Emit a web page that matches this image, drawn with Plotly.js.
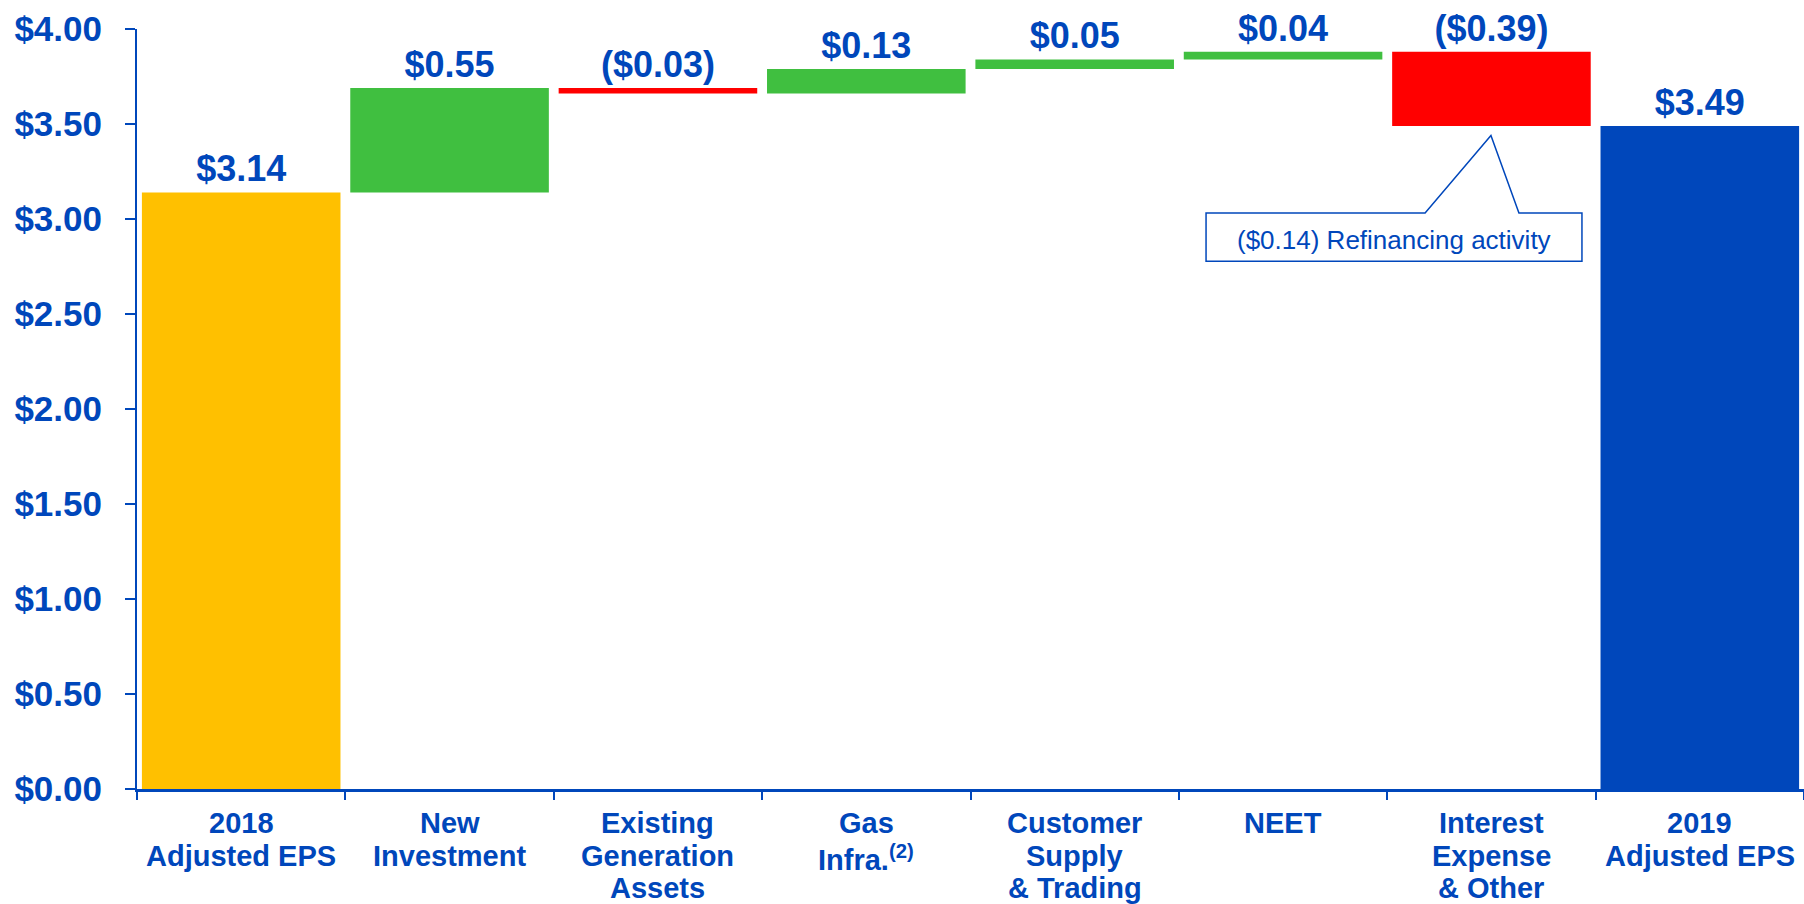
<!DOCTYPE html>
<html><head><meta charset="utf-8">
<script src="https://cdn.plot.ly/plotly-3.0.1.min.js"></script>
<style>html,body{margin:0;padding:0;background:#fff;overflow:hidden}</style>
</head><body><div id="chart" style="width:1804px;height:904px"></div>
<script>
// ---- data ----
const categories = ["2018 Adjusted EPS","New Investment","Existing Generation Assets","Gas Infra.(2)","Customer Supply & Trading","NEET","Interest Expense & Other","2019 Adjusted EPS"];
const labelLines = [["2018","Adjusted EPS"],["New","Investment"],["Existing","Generation","Assets"],["Gas","Infra.<sup>(2)</sup>"],["Customer","Supply","& Trading"],["NEET"],["Interest","Expense","& Other"],["2019","Adjusted EPS"]];
const measures = ["absolute","relative","relative","relative","relative","relative","relative","total"];
const values = [3.14, 0.55, -0.03, 0.13, 0.05, 0.04, -0.39, 3.49];
const barLabels = ["$3.14","$0.55","($0.03)","$0.13","$0.05","$0.04","($0.39)","$3.49"];
const yTickValues = [0, 0.5, 1, 1.5, 2, 2.5, 3, 3.5, 4];
const calloutText = "($0.14) Refinancing activity";

// ---- styles ----
const BLUE = "#0047BB", YELLOW = "#FFC000", GREEN = "#40BF40", RED = "#FF0000";
const FONT = "Liberation Sans, Arial, Helvetica, sans-serif";

// build waterfall bases/heights
let running = 0;
const bases = [], heights = [], colors = [];
values.forEach((v, i) => {
  const m = measures[i];
  if (m === "absolute") { bases.push(0); heights.push(v); running = v; colors.push(YELLOW); }
  else if (m === "total") { bases.push(0); heights.push(v); colors.push(BLUE); }
  else if (v >= 0) { bases.push(running); heights.push(v); running += v; colors.push(GREEN); }
  else { bases.push(running + v); heights.push(-v); running += v; colors.push(RED); }
});

const trace = {
  type: "bar", x: categories, y: heights, base: bases,
  marker: {color: colors, line: {width: 0}},
  text: barLabels, textposition: "outside", cliponaxis: false, constraintext: "none",
  textfont: {family: FONT, size: 36, color: BLUE, weight: "bold"},
  hoverinfo: "skip"
};

const annotations = [];
labelLines.forEach((lines, i) => {
  lines.forEach((ln, j) => {
    annotations.push({
      x: categories[i], xref: "x", y: 0, yref: "y", yanchor: "top", xanchor: "center",
      yshift: -(16 + j * 32.7), text: "<b>" + ln + "</b>", showarrow: false,
      font: {family: FONT, size: 29, color: BLUE}
    });
  });
});
annotations.push({
  x: 0.754, xref: "paper", y: 2.89, yref: "y", xanchor: "center", yanchor: "middle",
  text: calloutText, showarrow: false, font: {family: FONT, size: 26, color: BLUE}
});

const layout = {
  width: 1804, height: 904,
  margin: {l: 137, r: 0, t: 29, b: 115, pad: 0},
  paper_bgcolor: "#fff", plot_bgcolor: "#fff",
  showlegend: false, bargap: 0.047,
  xaxis: {type: "category", range: [-0.5, 7.5], showline: true, linecolor: BLUE, linewidth: 3,
    ticks: "outside", tickson: "boundaries", ticklen: 8, tickwidth: 2, tickcolor: BLUE,
    showticklabels: false, showgrid: false, zeroline: false, fixedrange: true},
  yaxis: {range: [0, 4], tickvals: yTickValues, ticktext: yTickValues.map(v => "$" + v.toFixed(2)),
    showline: true, linecolor: BLUE, linewidth: 2, ticks: "outside", ticklen: 10, tickwidth: 2, tickcolor: BLUE,
    tickfont: {family: FONT, size: 35, color: BLUE, weight: "bold"}, ticklabelstandoff: 16,
    showgrid: false, zeroline: false, fixedrange: true},
  shapes: [{
    type: "path", xref: "paper", yref: "y",
    path: "M0.6413,3.031 L0.7727,3.031 L0.8122,3.439 L0.8290,3.031 L0.8668,3.031 L0.8668,2.777 L0.6413,2.777 Z",
    line: {color: BLUE, width: 1.5}, fillcolor: "rgba(255,255,255,0)", layer: "above"
  }],
  annotations: annotations
};

Plotly.newPlot("chart", [trace], layout, {displayModeBar: false, staticPlot: true});
</script></body></html>
